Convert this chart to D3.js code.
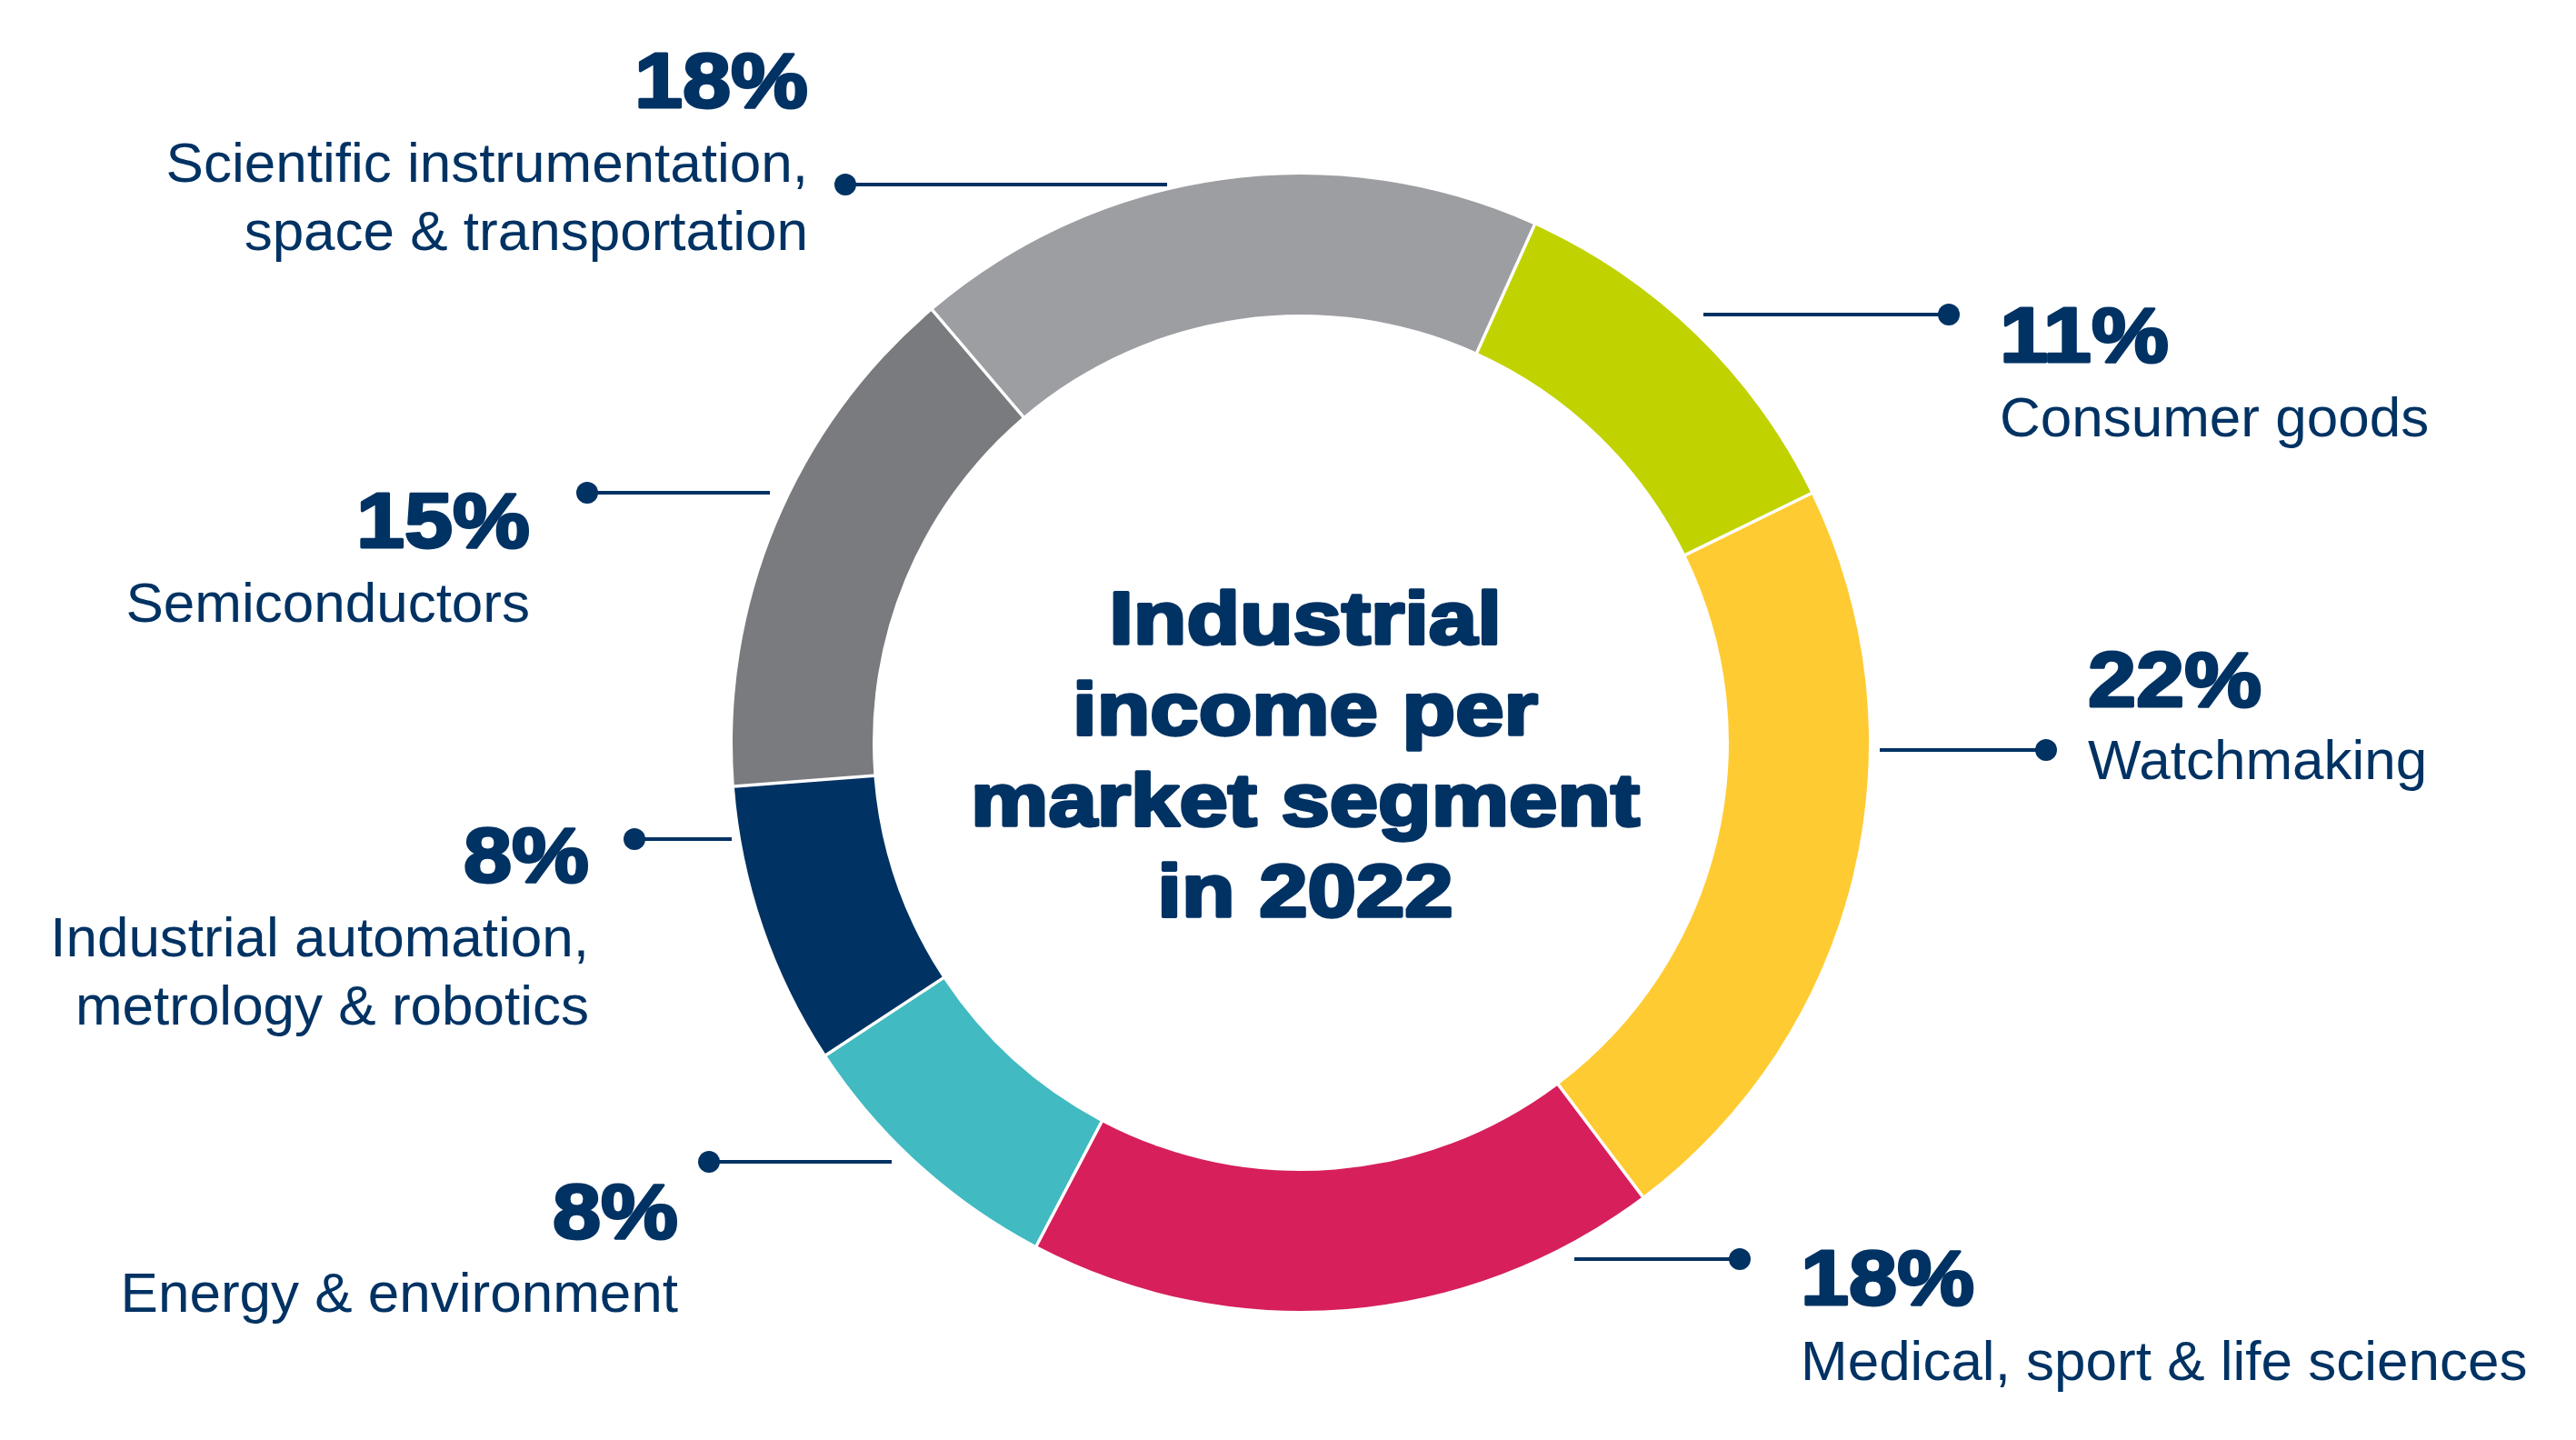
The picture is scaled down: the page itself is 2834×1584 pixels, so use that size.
<!DOCTYPE html>
<html>
<head>
<meta charset="utf-8">
<script src="https://cdn.jsdelivr.net/npm/d3@7"></script>
<style>
  html, body { margin: 0; padding: 0; background: #ffffff; }
  svg { display: block; }
</style>
</head>
<body>
<svg id="chart" width="2834" height="1584"></svg>
<script>
// ---------- DATA ----------
const categories = [
  "Consumer goods",
  "Watchmaking",
  "Medical, sport & life sciences",
  "Energy & environment",
  "Industrial automation, metrology & robotics",
  "Semiconductors",
  "Scientific instrumentation, space & transportation"
];
const values = [11, 22, 18, 8, 8, 15, 18];
const labelLines = [
  ["Consumer goods"],
  ["Watchmaking"],
  ["Medical, sport & life sciences"],
  ["Energy & environment"],
  ["Industrial automation,", "metrology & robotics"],
  ["Semiconductors"],
  ["Scientific instrumentation,", "space & transportation"]
];
const titleLines = ["Industrial", "income per", "market segment", "in 2022"];

// ---------- STYLE / LAYOUT ----------
const colors = ["#C0D200", "#FFCB32", "#D61F5B", "#41BAC1", "#003263", "#7A7B7F", "#9D9EA2"];
const navy = "#003263";
const cx = 1431, cy = 817, outerR = 625, innerR = 471;
const startDeg = 24.3;

// leader/label layout per category (same order as categories)
const layout = [
  { side: "right", lineY: 346,  lineX0: 1874, dotX: 2144, textX: 2200, pctY: 398,  labY: 480 },
  { side: "right", lineY: 825,  lineX0: 2068, dotX: 2251, textX: 2297, pctY: 777,  labY: 857 },
  { side: "right", lineY: 1385, lineX0: 1732, dotX: 1914, textX: 1981, pctY: 1435, labY: 1518 },
  { side: "left",  lineY: 1278, lineX0: 981,  dotX: 780,  textX: 746,  pctY: 1362, labY: 1443 },
  { side: "left",  lineY: 923,  lineX0: 805,  dotX: 698,  textX: 648,  pctY: 970,  labY: 1052 },
  { side: "left",  lineY: 542,  lineX0: 847,  dotX: 646,  textX: 583,  pctY: 602,  labY: 684 },
  { side: "left",  lineY: 203,  lineX0: 1284, dotX: 930,  textX: 889,  pctY: 118,  labY: 200 }
];
const labelLineGap = 75;

const svg = d3.select("#chart");

// ---------- DONUT ----------
const toRad = d => d * Math.PI / 180;
const pie = d3.pie()
  .sort(null)
  .value(d => d)
  .startAngle(toRad(startDeg))
  .endAngle(toRad(startDeg + 360))
  .padAngle(3.5 / outerR);

const arc = d3.arc()
  .innerRadius(innerR)
  .outerRadius(outerR)
  .padRadius(outerR);

const g = svg.append("g").attr("transform", `translate(${cx},${cy})`);
g.selectAll("path.slice")
  .data(pie(values))
  .join("path")
  .attr("class", "slice")
  .attr("d", arc)
  .attr("fill", (d, i) => colors[i]);

// ---------- TITLE ----------
const titleG = svg.append("g");
titleLines.forEach((t, i) => {
  titleG.append("text")
    .attr("transform", `translate(1436,${708 + i * 100}) scale(1.17,1)`)
    .attr("text-anchor", "middle")
    .attr("font-family", "'Liberation Sans', Arial, sans-serif")
    .attr("font-weight", "bold")
    .attr("font-size", 82)
    .attr("fill", navy)
    .attr("stroke", navy)
    .attr("stroke-width", 3.5)
    .attr("stroke-linejoin", "round")
    .text(t);
});

// ---------- LEADERS & LABELS ----------
const labG = svg.append("g");
categories.forEach((c, i) => {
  const L = layout[i];
  labG.append("line")
    .attr("x1", L.lineX0).attr("x2", L.dotX)
    .attr("y1", L.lineY).attr("y2", L.lineY)
    .attr("stroke", navy).attr("stroke-width", 4);
  labG.append("circle")
    .attr("cx", L.dotX).attr("cy", L.lineY).attr("r", 12)
    .attr("fill", navy);

  const anchor = L.side === "right" ? "start" : "end";
  labG.append("text")
    .attr("transform", `translate(${L.textX},${L.pctY}) scale(1.11,1)`)
    .attr("text-anchor", anchor)
    .attr("font-family", "'Liberation Sans', Arial, sans-serif")
    .attr("font-weight", "bold")
    .attr("font-size", 86)
    .attr("fill", navy)
    .attr("stroke", navy)
    .attr("stroke-width", 3)
    .attr("stroke-linejoin", "round")
    .text(values[i] + "%");

  labelLines[i].forEach((t, j) => {
    labG.append("text")
      .attr("x", L.textX)
      .attr("y", L.labY + j * labelLineGap)
      .attr("text-anchor", anchor)
      .attr("font-family", "'Liberation Sans', Arial, sans-serif")
      .attr("font-size", 62)
      .attr("fill", navy)
      .text(t);
  });
});
</script>
</body>
</html>
